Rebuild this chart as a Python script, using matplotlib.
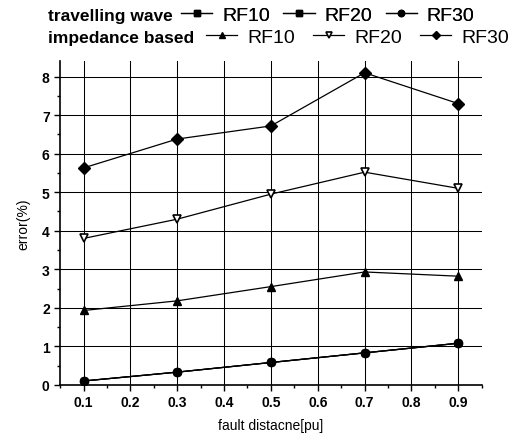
import matplotlib.pyplot as plt
from matplotlib.ticker import MultipleLocator

plt.rcParams['font.family'] = ['Liberation Sans', 'DejaVu Sans']

# fault distance (pu)
x = [0.1, 0.3, 0.5, 0.7, 0.9]

# travelling wave method (all three curves lie on top of each other)
tw_rf10 = [0.10, 0.33, 0.58, 0.83, 1.08]
tw_rf20 = [0.10, 0.33, 0.58, 0.83, 1.08]
tw_rf30 = [0.10, 0.33, 0.58, 0.83, 1.08]

# impedance based method
imp_rf10 = [1.93, 2.18, 2.55, 2.93, 2.82]
imp_rf20 = [3.80, 4.30, 4.95, 5.52, 5.10]
imp_rf30 = [5.63, 6.38, 6.72, 8.10, 7.30]

labels = ["RF10", "RF20", "RF30"]

fig = plt.figure(figsize=(5.18, 4.35), dpi=100)
ax = fig.add_axes([0.116, 0.113, 0.814, 0.744])

kw = dict(color="black", linewidth=0.9)
h1 = ax.plot(x, tw_rf10, marker="s", markersize=5, **kw)[0]
h2 = ax.plot(x, tw_rf20, marker="s", markersize=5, **kw)[0]
h3 = ax.plot(x, tw_rf30, marker="o", markersize=6, **kw)[0]
h4 = ax.plot(x, imp_rf10, marker="^", markersize=6, **kw)[0]
h5 = ax.plot(x, imp_rf20, marker="v", markersize=6, markerfacecolor="white",
             markeredgewidth=1.2, **kw)[0]
h6 = ax.plot(x, imp_rf30, marker="D", markersize=6, **kw)[0]

ax.set_xlim(0.05, 0.95)
ax.set_ylim(0, 8.4)
ax.xaxis.set_major_locator(MultipleLocator(0.1))
ax.xaxis.set_minor_locator(MultipleLocator(0.05))
ax.yaxis.set_major_locator(MultipleLocator(1))
ax.yaxis.set_minor_locator(MultipleLocator(0.5))
ax.set_xticks([0.1, 0.2, 0.3, 0.4, 0.5, 0.6, 0.7, 0.8, 0.9])
ax.grid(True, which="major", color="black", linewidth=0.75)
ax.set_axisbelow(True)

for s in ["top", "right"]:
    ax.spines[s].set_visible(False)
for s in ["left", "bottom"]:
    ax.spines[s].set_linewidth(1.2)

ax.tick_params(axis="both", which="major", direction="out", length=4,
               width=1, labelsize=10)
ax.tick_params(axis="both", which="minor", direction="out", length=2, width=1)
for t in ax.get_xticklabels() + ax.get_yticklabels():
    t.set_fontweight("bold")

ax.set_xlabel("fault distacne[pu]", fontsize=10, labelpad=6)
ax.set_ylabel("error(%)", fontsize=10, labelpad=8)

# two-row legend at the top
fig.text(0.093, 0.963, "travelling wave", fontsize=12.5, fontweight="bold",
         va="center", ha="left")
fig.text(0.093, 0.912, "impedance based", fontsize=12.5, fontweight="bold",
         va="center", ha="left")

lkw = dict(ncol=3, frameon=False, fontsize=14, handlelength=1.6,
           handletextpad=0.5, borderpad=0, borderaxespad=0,
           loc="center left", markerscale=0.75)
leg1 = fig.legend([h1, h2, h3], labels, bbox_to_anchor=(0.35, 0.963),
                  columnspacing=0.7, **lkw)
fig.add_artist(leg1)
fig.legend([h4, h5, h6], labels, bbox_to_anchor=(0.398, 0.912),
           columnspacing=0.95, **lkw)

fig.savefig("out.png", dpi=100)
